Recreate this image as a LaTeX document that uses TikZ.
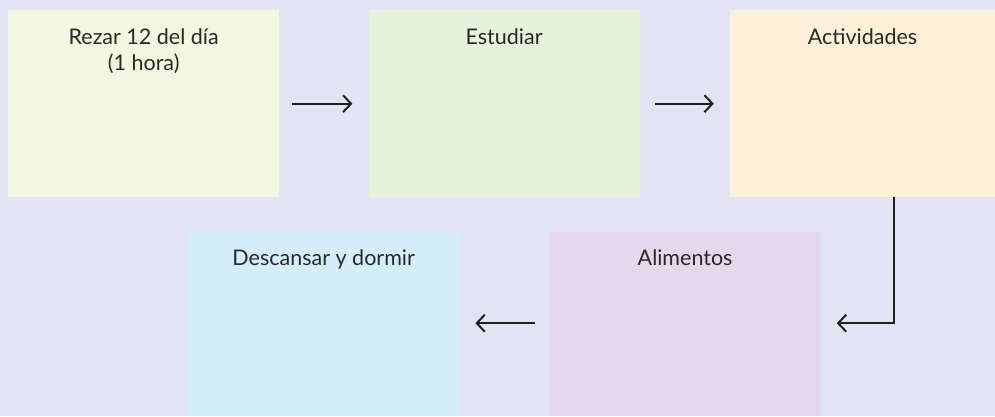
\documentclass[tikz,border=0pt]{standalone}
\usepackage{fontspec}
\setmainfont{Lato}
\usetikzlibrary{arrows.meta, positioning}
\definecolor{bgcolor}{RGB}{227, 228, 243}
\definecolor{prayfill}{RGB}{243, 247, 223}
\definecolor{studyfill}{RGB}{230, 243, 220}
\definecolor{actfill}{RGB}{253, 240, 216}
\definecolor{restfill}{RGB}{212, 238, 249}
\definecolor{foodfill}{RGB}{229, 216, 236}
\definecolor{inkgray}{RGB}{40, 40, 40}
\tikzset{
  font=\fontsize{21.5}{26}\selectfont,
  taskblock/.style={
    rectangle, draw=none, inner sep=0pt,
    minimum width=271pt, minimum height=187pt
  },
  tasktitle/.style={
    anchor=north, align=center, text=inkgray, inner sep=0pt
  },
  flowline/.style={
    draw=black!88, -{Straight Barb[length=8pt, width=17pt, line width=2pt]}, line width=2pt
  }
}
\begin{document}
\begin{tikzpicture}[x=1pt, y=-1pt]
  \fill[bgcolor] (0,0) rectangle (995,416);
  \useasboundingbox (0,0) rectangle (995,416);

  % Top row
  \node[taskblock, fill=prayfill, anchor=north west] (s1) at (8,10) {};
  \node[taskblock, fill=studyfill, right=89pt of s1] (s2) {};
  \node[taskblock, fill=actfill, right=90pt of s2, minimum width=265pt] (s3) {};

  % Bottom row
  \node[taskblock, fill=restfill, anchor=north west, minimum height=184pt] (s5) at (188,232) {};
  \node[taskblock, fill=foodfill, right=90pt of s5, minimum height=184pt] (s4) {};

  % Titles
  \node[tasktitle, below=18pt of s1.north] (t1) {Rezar 12 del día\\(1 hora)};
  \node[tasktitle, below=18pt of s2.north] (t2) {Estudiar};
  \node[tasktitle, below=18pt of s3.north] (t3) {Actividades};
  \node[tasktitle, below=17pt of s4.north] (t4) {Alimentos};
  \node[tasktitle, below=17pt of s5.north] (t5) {Descansar y dormir};

  % Connectors
  \coordinate (a1) at ([xshift=13pt]s1.east);
  \coordinate (b1) at ([xshift=-16pt]s2.west);
  \coordinate (a2) at ([xshift=15pt]s2.east);
  \coordinate (b2) at ([xshift=-16pt]s3.west);
  \coordinate (a4) at ([xshift=-14pt, yshift=1pt]s4.west);
  \coordinate (b4) at ([xshift=16pt, yshift=1pt]s5.east);

  \draw[flowline] (a1) -- (b1);
  \draw[flowline] (a2) -- (b2);
  \draw[flowline] (s3.south -| 894,0) |- ([xshift=16pt, yshift=1pt]s4.east);
  \draw[flowline] (a4) -- (b4);
\end{tikzpicture}
\end{document}
